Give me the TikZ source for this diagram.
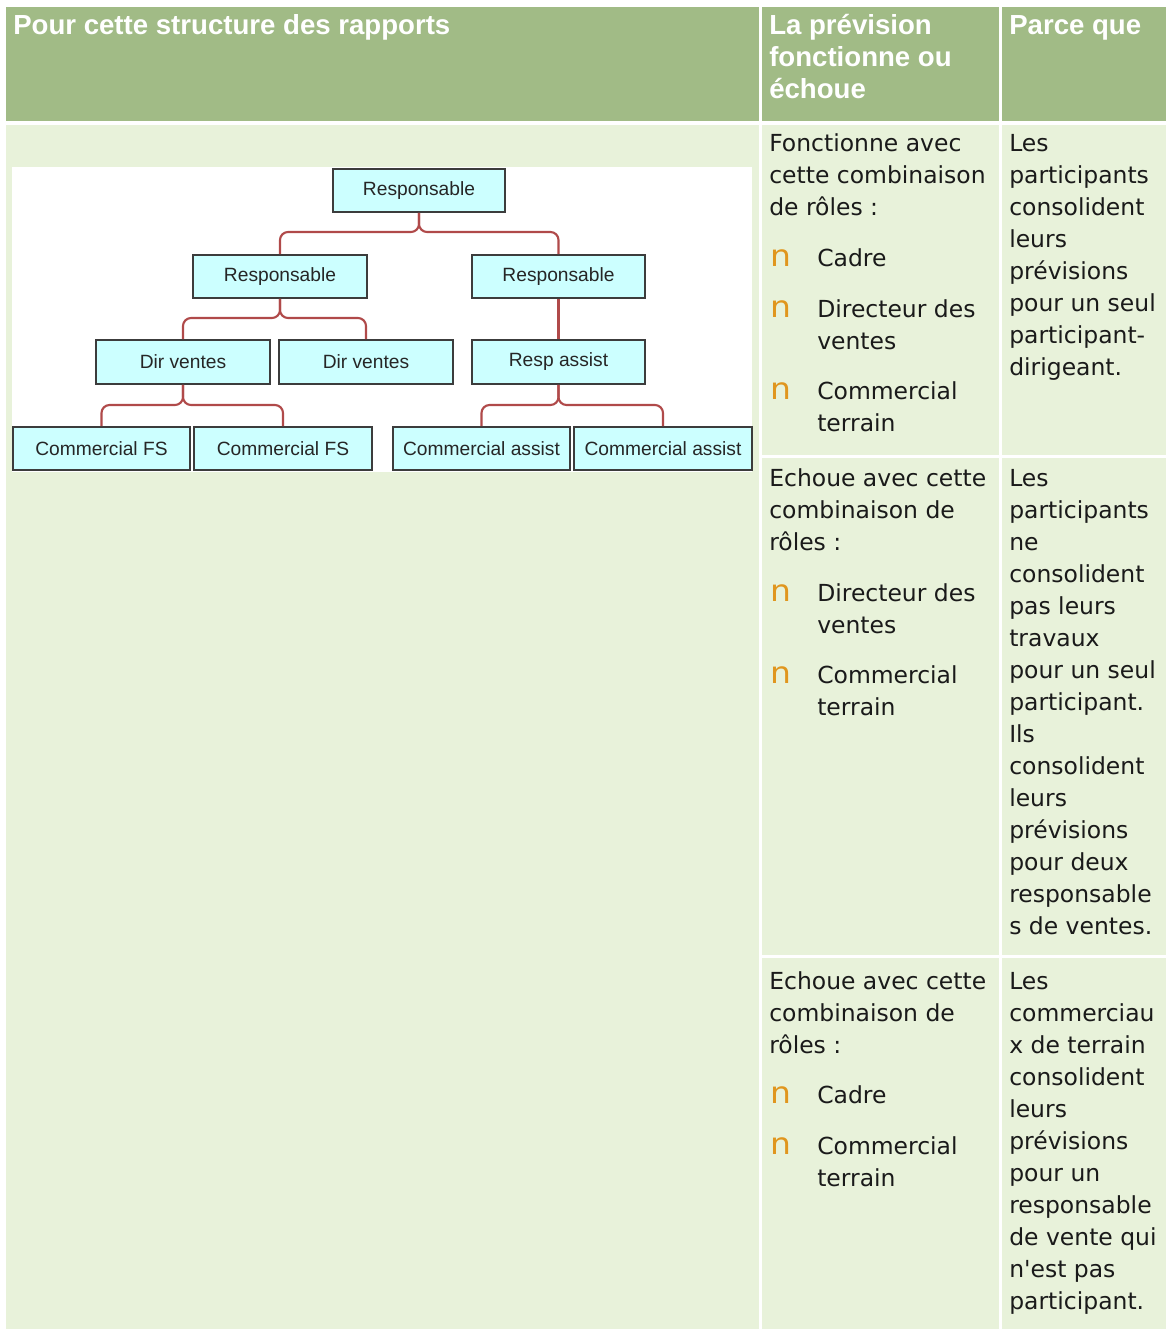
\documentclass[tikz,border=0pt]{standalone}
\usepackage{fontspec}
\usepackage{graphicx}
\newfontfamily\bodyfont{DejaVu Sans}[Ligatures=TeXOff]
\newfontfamily\headfont{Liberation Sans}
\newfontfamily\chartfont{Liberation Sans}
\definecolor{hdr}{HTML}{A1BB86}
\definecolor{cellbg}{HTML}{E8F2DA}
\definecolor{boxfill}{HTML}{CCFFFF}
\definecolor{boxdraw}{HTML}{3C3C3C}
\definecolor{connc}{HTML}{B04A4A}
\definecolor{bul}{HTML}{E0961E}
\definecolor{bodytext}{HTML}{1A1A1A}
\newcommand\cellLines[4]{%
  \foreach \t [count=\i from 0] in {#4}
    \node[btext] (#1-\i) at (#2,#3+32*\i) {\t};}
\newcommand\bulletN{\scalebox{1.1}[1.0]{n}}
\begin{document}
\begin{tikzpicture}[x=0.75pt,y=-0.75pt,
  hcell/.style={fill=hdr,draw=none},
  bcell/.style={fill=cellbg,draw=none},
  htext/.style={font=\headfont\bfseries\fontsize{20.7pt}{24pt}\selectfont,text=white,anchor=base west,inner sep=0pt},
  btext/.style={font=\bodyfont\fontsize{17.6pt}{24pt}\selectfont,text=bodytext,anchor=base west,inner sep=0pt},
  bulletmark/.style={font=\bodyfont\fontsize{22.5pt}{24pt}\selectfont,text=bul,anchor=base west,inner sep=0pt},
  orgbox/.style={draw=boxdraw,fill=boxfill,line width=1.4pt,minimum height=32pt,inner sep=0pt,
    font=\chartfont\fontsize{14.4pt}{16pt}\selectfont,text=black!85},
  conn/.style={draw=connc,line width=1.6pt,rounded corners=6pt}]
\useasboundingbox (0,0) rectangle (1167,1329);
\fill[white] (0,0) rectangle (1167,1329);
% header cells
\fill[hcell] (6,7) rectangle (759,121);
\fill[hcell] (762,7) rectangle (999,121);
\fill[hcell] (1002,7) rectangle (1166,121);
% body cells
\fill[bcell] (6,125) rectangle (759,1329);
\fill[bcell] (762,125) rectangle (999,455);
\fill[bcell] (1002,125) rectangle (1166,455);
\fill[bcell] (762,458) rectangle (999,955);
\fill[bcell] (1002,458) rectangle (1166,955);
\fill[bcell] (762,958) rectangle (999,1329);
\fill[bcell] (1002,958) rectangle (1166,1329);
% header texts
\node[htext] (h1) at (13,34) {Pour cette structure des rapports};
\node[htext] (h2a) at (769,34) {La prévision};
\node[htext] (h2b) at (769,66) {fonctionne ou};
\node[htext] (h2c) at (769,98) {échoue};
\node[htext] (h3) at (1009,34) {Parce que};
% org chart
\fill[white] (12,167) rectangle (752,472);
\node[orgbox,minimum width=129pt] (top) at (419,190.5) {Responsable};
\node[orgbox,minimum width=130.5pt] (resl) at (280,276.5) {Responsable};
\node[orgbox,minimum width=130pt] (resr) at (558.5,276.5) {Responsable};
\node[orgbox,minimum width=130.5pt,minimum height=33pt] (dv1) at (183,362) {Dir ventes};
\node[orgbox,minimum width=130.5pt,minimum height=33pt] (dv2) at (366,362) {Dir ventes};
\node[orgbox,minimum width=130pt,minimum height=33pt] (ra) at (558.5,362) {Resp assist};
\node[orgbox,minimum width=132.75pt] (cfs1) at (101.5,448.5) {Commercial FS};
\node[orgbox,minimum width=133.5pt] (cfs2) at (283,448.5) {Commercial FS};
\node[orgbox,minimum width=132.75pt] (ca1) at (481.5,448.5) {Commercial assist};
\node[orgbox,minimum width=133.5pt] (ca2) at (663,448.5) {Commercial assist};
\draw[conn] (top.south) -- (top.south |- 0,232) -| (resl.north);
\draw[conn] (top.south) -- (top.south |- 0,232) -| (resr.north);
\draw[conn] (resl.south) -- (resl.south |- 0,318) -| (dv1.north);
\draw[conn] (resl.south) -- (resl.south |- 0,318) -| (dv2.north);
\draw[conn] (resr.south) -- (ra.north);
\draw[conn] (dv1.south) -- (dv1.south |- 0,405) -| (cfs1.north);
\draw[conn] (dv1.south) -- (dv1.south |- 0,405) -| (cfs2.north);
\draw[conn] (ra.south) -- (ra.south |- 0,405) -| (ca1.north);
\draw[conn] (ra.south) -- (ra.south |- 0,405) -| (ca2.north);
% row 1
\cellLines{ra1}{769}{151}{Fonctionne avec,cette combinaison,de rôles :}
\node[bulletmark] (b11) at (770,266) {\bulletN};
\cellLines{rb11}{817}{266}{Cadre}
\node[bulletmark] (b12) at (770,317) {\bulletN};
\cellLines{rb12}{817}{317}{Directeur des,ventes}
\node[bulletmark] (b13) at (770,399) {\bulletN};
\cellLines{rb13}{817}{399}{Commercial,terrain}
\cellLines{rc1}{1009}{151}{Les,participants,consolident,leurs,prévisions,pour un seul,participant-,dirigeant.}
% row 2
\cellLines{ra2}{769}{486}{Echoue avec cette,combinaison de,rôles :}
\node[bulletmark] (b21) at (770,601) {\bulletN};
\cellLines{rb21}{817}{601}{Directeur des,ventes}
\node[bulletmark] (b22) at (770,683) {\bulletN};
\cellLines{rb22}{817}{683}{Commercial,terrain}
\cellLines{rc2}{1009}{486}{Les,participants,ne,consolident,pas leurs,travaux,pour un seul,participant.,Ils,consolident,leurs,prévisions,pour deux,responsable,s de ventes.}
% row 3
\cellLines{ra3}{769}{989}{Echoue avec cette,combinaison de,rôles :}
\node[bulletmark] (b31) at (770,1103) {\bulletN};
\cellLines{rb31}{817}{1103}{Cadre}
\node[bulletmark] (b32) at (770,1154) {\bulletN};
\cellLines{rb32}{817}{1154}{Commercial,terrain}
\cellLines{rc3}{1009}{989}{Les,commerciau,x de terrain,consolident,leurs,prévisions,pour un,responsable,de vente qui,n'est pas,participant.}
\end{tikzpicture}
\end{document}
